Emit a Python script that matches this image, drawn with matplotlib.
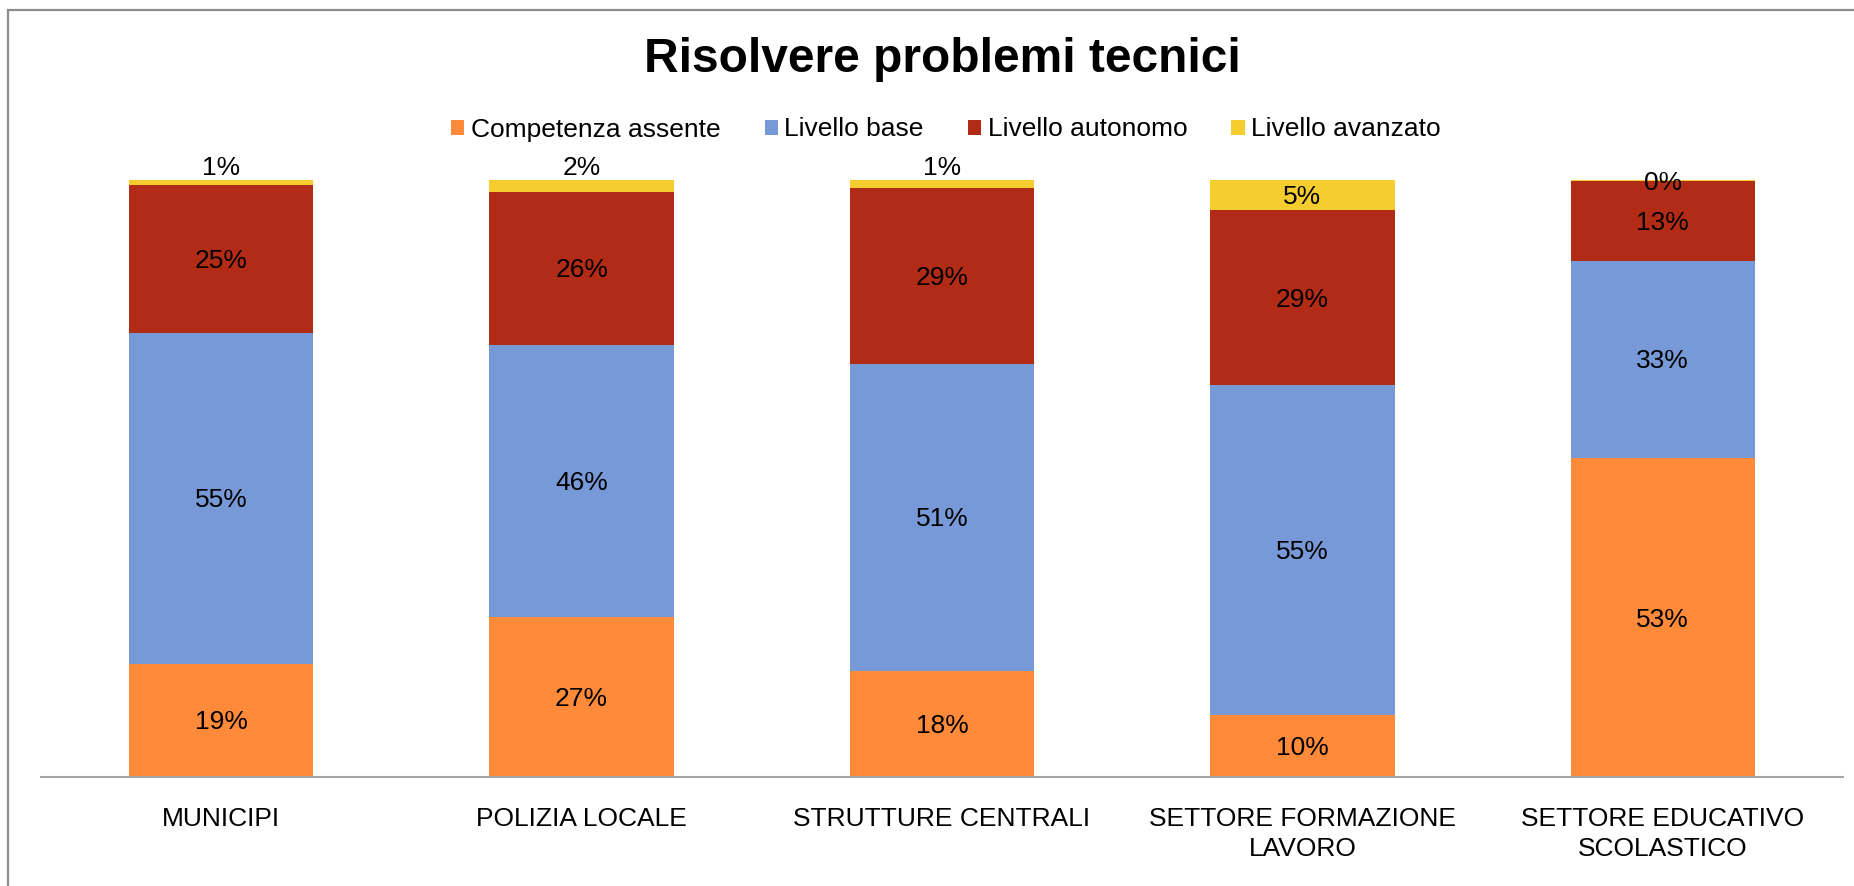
import matplotlib
matplotlib.use("Agg")
import matplotlib.pyplot as plt
from matplotlib.patches import Rectangle
import numpy as np

categories = ["MUNICIPI", "POLIZIA LOCALE", "STRUTTURE CENTRALI",
              "SETTORE FORMAZIONE\nLAVORO", "SETTORE EDUCATIVO\nSCOLASTICO"]
series_names = ["Competenza assente", "Livello base", "Livello autonomo", "Livello avanzato"]
competenza_assente = [19.0, 26.8, 17.8, 10.4, 53.4]
livello_base = [55.4, 45.6, 51.4, 55.2, 33.1]
livello_autonomo = [24.8, 25.6, 29.4, 29.3, 13.3]
livello_avanzato = [0.8, 2.0, 1.4, 5.1, 0.2]
colors = ["#FF8A3A", "#7799D8", "#B22B16", "#F5CD2E"]
title = "Risolvere problemi tecnici"

plt.rcParams["font.family"] = ["Liberation Sans", "DejaVu Sans"]

W, H = 1854, 886
fig = plt.figure(figsize=(W / 100, H / 100), dpi=100)
ax = fig.add_axes([41 / W, 1 - 777 / H, (1843 - 41) / W, (777 - 180) / H])

x = np.arange(len(categories))
series = [competenza_assente, livello_base, livello_autonomo, livello_avanzato]
bottom = np.zeros(len(categories))
handles = []
for name, vals, col in zip(series_names, series, colors):
    vals = np.array(vals)
    b = ax.bar(x, vals, width=0.512, bottom=bottom, color=col, label=name, linewidth=0)
    handles.append(b)
    for xi, v, bt in zip(x, vals, bottom):
        lbl = f"{v:.0f}%"
        if 0.5 <= v < 3:
            ax.annotate(lbl, xy=(xi, bt + v), xytext=(0, 9.0), textcoords="offset points",
                        ha="center", va="center", fontsize=19, color="black")
        else:
            ax.annotate(lbl, xy=(xi, bt + v / 2), xytext=(0, -1.5), textcoords="offset points",
                        ha="center", va="center", fontsize=19, color="black")
    bottom = bottom + vals

ax.set_xlim(-0.5, len(categories) - 0.5)
ax.set_ylim(0, 100)
ax.set_yticks([])
for s in ["top", "right", "left"]:
    ax.spines[s].set_visible(False)
ax.spines["bottom"].set_color("#A6A6A6")
ax.spines["bottom"].set_linewidth(1.5)
ax.set_xticks(x)
ax.set_xticklabels(categories, fontsize=19, linespacing=1.32)
ax.tick_params(axis="x", length=0, pad=21.5)

cx = (41 + 1843) / 2 / W
fig.text(cx, 1 - 72.5 / H, title, ha="center", va="baseline", fontsize=34.5, fontweight="bold")

fig.legend(handles=handles, labels=series_names, loc="center", bbox_to_anchor=(946 / W, 1 - 129.5 / H),
           ncol=4, frameon=False, fontsize=19, handlelength=0.5, handleheight=0.5,
           handletextpad=0.25, columnspacing=1.67, borderpad=0, borderaxespad=0)

fig.patches.append(Rectangle((8 / W, -0.1), 1.2, 1 - 10 / H + 0.1, transform=fig.transFigure,
                             fill=False, edgecolor="#8C8C8C", linewidth=1.6))

fig.savefig("out.png", dpi=100, facecolor="white")
